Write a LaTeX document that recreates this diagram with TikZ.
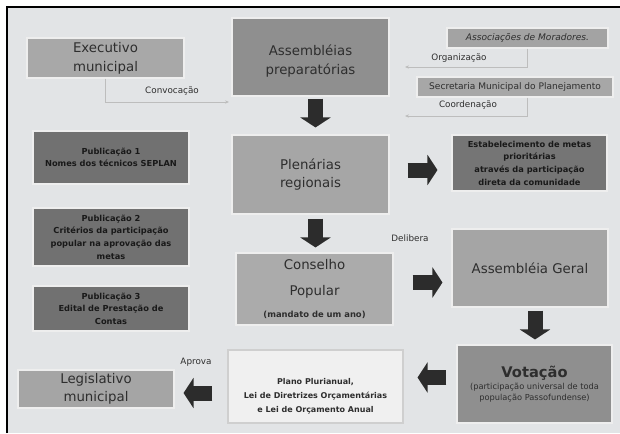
\documentclass[tikz,border=0pt]{standalone}
\usepackage{fontspec}
\setmainfont{DejaVu Sans}
\usetikzlibrary{arrows.meta,calc}
\definecolor{bg}{HTML}{E2E4E6}
\definecolor{txt}{HTML}{2E2E2E}
\definecolor{boxedge}{HTML}{EEEEEE}
\definecolor{gExec}{HTML}{A8A8A8}
\definecolor{gAsm}{HTML}{8F8F8F}
\definecolor{gAssoc}{HTML}{A3A3A3}
\definecolor{gSec}{HTML}{A7A7A7}
\definecolor{gPub}{HTML}{717171}
\definecolor{gPlen}{HTML}{A6A6A6}
\definecolor{gEst}{HTML}{757575}
\definecolor{gCons}{HTML}{ABABAB}
\definecolor{gGer}{HTML}{A5A5A5}
\definecolor{gVot}{HTML}{8F8F8F}
\definecolor{gLeg}{HTML}{A5A5A5}
\definecolor{gPlano}{HTML}{F0F0F0}
\definecolor{planoedge}{HTML}{CFCFCF}
\definecolor{blkc}{HTML}{2C2C2C}
\definecolor{connc}{HTML}{BDBDBD}
\begin{document}
\begin{tikzpicture}[x=0.75pt,y=-0.75pt,
  box/.style={draw=boxedge, line width=0.8pt, inner sep=0pt, align=center, text=txt},
  big/.style={font=\fontsize{10}{14}\selectfont},
  pub/.style={font=\bfseries\fontsize{6.2}{9.5}\selectfont, text=black!90},
  lbl/.style={font=\fontsize{6.6}{8}\selectfont, text=txt, inner sep=0pt},
  blk/.style={draw=blkc, line width=11.25pt, -{Triangle[width=22.5pt,length=7.5pt]}},
  conn/.style={draw=connc, line width=0.7pt, -{Stealth[length=3pt,width=2.5pt]}}]
\useasboundingbox (0,0) rectangle (620,433);
\fill[white] (0,0) rectangle (620,433);
\fill[bg] (7,7) rectangle (620,433);
\draw[line width=1pt] (7,433) -- (7,7) -- (620,7);

% boxes
\node[box, big, fill=gExec, minimum width=117.75pt, minimum height=30pt] (exec) at (105.5,58) {Executivo\\municipal};
\node[box, big, fill=gAsm, minimum width=117.75pt, minimum height=58.5pt] (asprep) at (310.5,57) {};
\node[big, text=txt, align=center] (asprept) at (310.5,61) {Assembléias\\preparatórias};
\node[box, fill=gAssoc, minimum width=120.75pt, minimum height=15pt, font=\itshape\fontsize{6.8}{8}\selectfont] (assoc) at (527.5,38) {Associações de Moradores.};
\node[box, fill=gSec, minimum width=147pt, minimum height=15pt, font=\fontsize{6.8}{8}\selectfont] (secr) at (515,87) {Secretaria Municipal do Planejamento};

\node[box, pub, fill=gPub, minimum width=117pt, minimum height=39.75pt] (pub1) at (111,157.5) {Publicação 1\\Nomes dos técnicos SEPLAN};
\node[box, pub, fill=gPub, minimum width=117pt, minimum height=43.5pt] (pub2) at (111,237) {Publicação 2\\Critérios da participação\\popular na aprovação das\\metas};
\node[box, pub, fill=gPub, minimum width=117pt, minimum height=33.75pt] (pub3) at (111,308.5) {Publicação 3\\Edital de Prestação de\\Contas};

\node[box, big, fill=gPlen, minimum width=117.75pt, minimum height=59.25pt] (plen) at (310.5,174.5) {Plenárias\\regionais};
\node[box, pub, fill=gEst, minimum width=116.25pt, minimum height=42pt] (estab) at (529.5,163) {Estabelecimento de metas\\prioritárias\\através da participação\\direta da comunidade};

\node[box, fill=gCons, minimum width=117.75pt, minimum height=54pt, font=\fontsize{10}{19.5}\selectfont] (cons) at (314.5,289) {Conselho\\Popular\\[-3pt]{\bfseries\fontsize{6.3}{8}\selectfont (mandato de um ano)}};
\node[box, big, fill=gGer, minimum width=117pt, minimum height=58.5pt] (ageral) at (530,268) {Assembléia Geral};

\node[box, fill=gVot, minimum width=116.25pt, minimum height=58.5pt, font=\fontsize{6.2}{8.3}\selectfont] (vot) at (534.5,384) {{\bfseries\fontsize{11}{13}\selectfont Votação}\\[1pt](participação universal de toda\\população Passofundense)};
\node[draw=planoedge, line width=0.8pt, fill=gPlano, minimum width=131.25pt, minimum height=54.75pt, inner sep=0pt] (plano) at (315.5,386.5) {};
\node[pub, align=center, text=txt, font=\bfseries\fontsize{6}{10.5}\selectfont] (planot) at (315.5,396) {Plano Plurianual,\\Lei de Diretrizes Orçamentárias\\e Lei de Orçamento Anual};
\node[box, big, fill=gLeg, minimum width=117pt, minimum height=28.5pt, font=\fontsize{10}{13.5}\selectfont] (legis) at (96,389) {Legislativo\\municipal};

% thin connectors
\coordinate (convEnd) at (229,102);
\coordinate (orgEnd) at (405,67);
\coordinate (coordEnd) at (405,116);
\draw[conn] (exec.south) |- (convEnd);
\draw[conn] (assoc.south) |- (orgEnd);
\draw[conn] ($(secr.south)+(12,0)$) |- (coordEnd);

% labels
\node[lbl] (lconv) at (172,91) {Convocação};
\node[lbl] (lorg) at (459,58) {Organização};
\node[lbl] (lcoord) at (468,105) {Coordenação};
\node[lbl] (ldel) at (410,238) {Delibera};
\node[lbl] (lapr) at (196,362) {Aprova};

% block arrows
\draw[blk] ($(asprep.south)+(5,2)$) -- ($(plen.north)+(5,-7)$);
\draw[blk] ($(plen.east)+(18,-4.5)$) -- ($(estab.west)+(-14,7)$);
\draw[blk] ($(plen.south)+(5,4)$) -- ($(cons.north)+(1,-5)$);
\draw[blk] ($(cons.east)+(19,-6.5)$) -- ($(ageral.west)+(-9,14.5)$);
\draw[blk] ($(ageral.south)+(5,3)$) -- ($(vot.north)+(0.5,-5)$);
\draw[blk] ($(vot.west)+(-10,-6.5)$) -- ($(plano.east)+(14,-9)$);
\draw[blk] ($(plano.west)+(-15,6.5)$) -- ($(legis.east)+(9,4)$);
\end{tikzpicture}
\end{document}
